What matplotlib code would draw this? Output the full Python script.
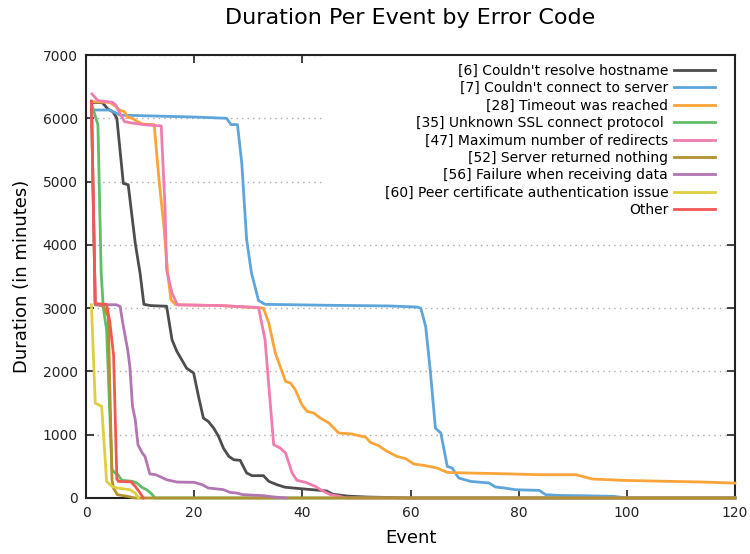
import matplotlib.pyplot as plt
from matplotlib.patches import Rectangle

labels = [
    "[6] Couldn't resolve hostname",
    "[7] Couldn't connect to server",
    "[28] Timeout was reached",
    "[35] Unknown SSL connect protocol ",
    "[47] Maximum number of redirects",
    "[52] Server returned nothing",
    "[56] Failure when receiving data",
    "[60] Peer certificate authentication issue",
    "Other",
]
colors = ["#4D4D4D", "#5DA5DA", "#FAA43A", "#60BD68", "#F17CB0",
          "#B2912F", "#B276B2", "#DECF3F", "#F15854"]

# values (event index, minutes)
black_x = [1, 3, 4, 5, 5.7, 6.9, 7.8, 9.1, 10, 10.7, 12, 14.9, 15.9, 16.8, 17.7,
           18.6, 19.9, 20.8, 21.7, 22.6, 23.6, 24.5, 25.4, 26.4, 27.3, 28.5, 29.7,
           30.7, 32.8, 33.8, 35.3, 36.8, 39.3, 42.7, 44.5, 45.6, 48.3, 52, 60, 120]
black_y = [6250, 6250, 6150, 6100, 6000, 4970, 4950, 4026, 3550, 3060, 3040, 3030,
           2500, 2316, 2184, 2050, 1974, 1605, 1263, 1210, 1105, 974, 789, 658, 605,
           595, 395, 353, 353, 263, 210, 170, 150, 125, 110, 60, 30, 15, 0, 0]

blue_x = [1, 4.4, 6.3, 20, 26, 26.8, 28, 28.8, 29.7, 30.6, 31.9, 33.1, 45, 56, 61.2,
          61.9, 62.8, 63.7, 64.6, 65.6, 66.8, 67.7, 68.9, 71.1, 74.5, 75.7, 77.3,
          79.4, 83.8, 85, 87.7, 91.5, 97.6, 100, 120]
blue_y = [6131, 6131, 6050, 6020, 6000, 5900, 5900, 5290, 4079, 3553, 3120, 3060,
          3045, 3035, 3017, 3000, 2711, 1974, 1105, 1027, 499, 474, 316, 262, 237,
          174, 158, 131, 120, 52, 40, 36, 25, 0, 0]

orange_x = [1, 4.4, 5.3, 6.2, 7.1, 7.7, 8.6, 9.5, 10.4, 12.6, 13.5, 14.4, 15.1, 15.7,
            16.6, 25, 32.8, 33.8, 35.0, 36.9, 37.8, 38.7, 39.9, 40.9, 42.1, 43.3,
            44.9, 46.7, 49.2, 50.4, 51.7, 52.6, 54.1, 55.7, 57.5, 59.1, 60.6, 62.5,
            64.9, 66.8, 70.5, 76.7, 83.8, 90.6, 93.6, 99.5, 105, 113.7, 120]
orange_y = [6263, 6250, 6200, 6131, 6105, 6015, 6000, 5947, 5910, 5900, 5026, 4290,
            3553, 3132, 3053, 3040, 3001, 2764, 2290, 1842, 1817, 1711, 1474, 1368,
            1343, 1264, 1185, 1027, 1011, 984, 963, 879, 826, 736, 657, 621, 537,
            515, 474, 404, 395, 384, 368, 368, 300, 278, 268, 253, 235]

green_x = [1, 2.2, 2.8, 3.2, 3.8, 4.8, 5.4, 5.9, 6.6, 8.6, 9.4, 10.3, 11.2, 12.2,
           12.7, 120]
green_y = [6237, 5895, 3553, 3001, 2659, 447, 395, 368, 280, 263, 237, 170, 131, 60,
           0, 0]

pink_x = [1.1, 2.2, 4.9, 5.5, 6.1, 7.1, 8.8, 11.2, 13.9, 14.6, 14.9, 15.9, 16.9, 25,
          31.9, 33.1, 34.7, 35.9, 36.9, 38.1, 39, 40.6, 42.4, 43.9, 45.2, 46.9, 48, 120]
pink_y = [6384, 6280, 6252, 6210, 6105, 5947, 5921, 5895, 5880, 4605, 3605, 3237,
          3053, 3040, 3010, 2500, 842, 789, 711, 395, 279, 247, 184, 105, 53, 26, 0, 0]

olive_x = [1, 1.7, 3.2, 4.1, 4.8, 5.1, 5.8, 7.6, 9, 120]
olive_y = [6250, 3054, 3035, 2869, 289, 150, 53, 26, 0, 0]

purple_x = [1, 1.7, 5.6, 6.3, 6.8, 7.7, 8.1, 8.6, 9.1, 9.6, 10.4, 10.9, 11.8, 12.9,
            14.9, 16.8, 20, 21.5, 22.6, 25.4, 26.6, 27.8, 29, 32.8, 34.7, 37]
purple_y = [6270, 3054, 3054, 3027, 2763, 2342, 2079, 1447, 1237, 842, 711, 657, 380,
            368, 289, 252, 247, 210, 158, 132, 89, 79, 53, 37, 16, 0]

yellow_x = [1, 1.7, 2.9, 3.8, 4.8, 5.7, 8.1, 9.1, 9.7]
yellow_y = [3054, 1500, 1447, 262, 184, 158, 131, 79, 0]

red_x = [1, 1.7, 3.8, 4.4, 5.1, 5.7, 6, 8.3, 9.1, 10, 10.6]
red_y = [6270, 3070, 3060, 2780, 2250, 300, 262, 255, 184, 79, 0]

series = [(black_x, black_y), (blue_x, blue_y), (orange_x, orange_y),
          (green_x, green_y), (pink_x, pink_y), (olive_x, olive_y),
          (purple_x, purple_y), (yellow_x, yellow_y), (red_x, red_y)]

fig = plt.figure(figsize=(7.5, 5.54), dpi=100)
ax = fig.add_axes([0.1147, 0.1011, 0.8653, 0.7996])

for (xs, ys), lab, c in zip(series, labels, colors):
    ax.plot(xs, ys, color=c, lw=2, label=lab, clip_on=False, zorder=3)

ax.set_xlim(0, 120)
ax.set_ylim(0, 7000)
ax.set_xticks(range(0, 121, 20))
ax.set_yticks(range(0, 7001, 1000))
ax.tick_params(direction="in", length=6, width=1.2, top=True, right=True,
               labelsize=10, pad=6, colors="#222222")
for s in ax.spines.values():
    s.set_linewidth(1.5)
    s.set_color("#222222")
ax.yaxis.grid(True, linestyle=(0, (1, 3)), color="#aaaaaa", lw=1)
ax.set_axisbelow(True)

# white key box behind the legend (hides the grid there)
ax.add_patch(Rectangle((0.365, 0.62), 0.635, 0.38, transform=ax.transAxes,
                       facecolor="white", edgecolor="none", zorder=1))

ax.set_title("Duration Per Event by Error Code", fontsize=16, pad=22)
ax.set_xlabel("Event", fontsize=13, labelpad=6)
ax.set_ylabel("Duration (in minutes)", fontsize=13, labelpad=8)

leg = ax.legend(loc="upper right", bbox_to_anchor=(0.989, 1.009),
                markerfirst=False, fontsize=10, frameon=True,
                fancybox=False, framealpha=1, edgecolor="none", handlelength=3,
                labelspacing=0.25, borderaxespad=0.5, handletextpad=0.4)

fig.savefig("out.png", dpi=100)
